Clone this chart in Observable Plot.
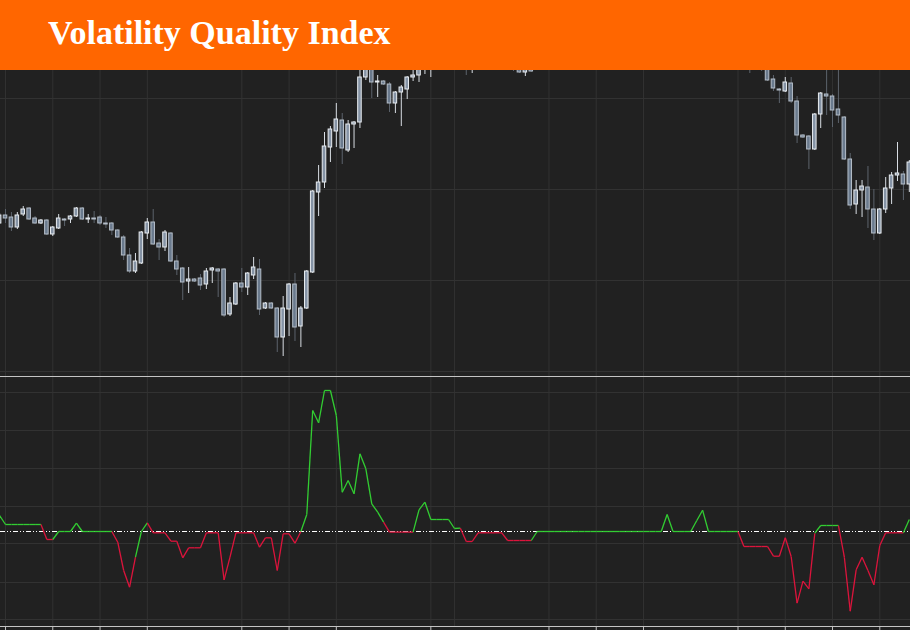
<!DOCTYPE html>
<html><head><meta charset="utf-8">
<script src="https://cdn.jsdelivr.net/npm/d3@7"></script>
<script src="https://cdn.jsdelivr.net/npm/@observablehq/plot@0.6"></script>
<style>
html,body{margin:0;padding:0;background:#212121;}
#wrap{width:910px;height:630px;position:relative;overflow:hidden;background:#212121;}
#title{position:absolute;left:0;top:0;width:910px;height:70px;background:#ff6600;z-index:2;}
#title span{position:absolute;left:48px;top:16px;font:bold 34px/34px "Liberation Serif","Times New Roman",serif;color:#fff;white-space:nowrap;}
#upper{position:absolute;left:0;top:70px;}
#sep{position:absolute;left:0;top:376px;width:910px;height:1px;background:#c4c4c4;}
#lower{position:absolute;left:0;top:377px;}
svg{display:block;}
</style></head>
<body><div id="wrap"><div id="title"><span>Volatility Quality Index</span></div><div id="upper"></div><div id="sep"></div><div id="lower"></div></div>
<script>
// ---- data (bar index starts at -1, partially visible at the left edge) ----
const firstBar = -1;
const open = [
1.3148,1.3156,1.3154,1.3144,1.3157,1.3163,1.3153,1.3148,1.3151,1.3137,
1.3143,1.3152,1.3152,1.3155,1.3163,1.3152,1.3153,1.3154,1.3148,1.3148,
1.3141,1.3134,1.3116,1.3100,1.3108,1.3138,1.3149,1.3128,1.3124,1.3138,
1.3110,1.3103,1.3090,1.3092,1.3093,1.3087,1.3101,1.3102,1.3102,1.3057,
1.3067,1.3088,1.3084,1.3096,1.3102,1.3063,1.3068,1.3063,1.3034,1.3062,
1.3087,1.3045,1.3063,1.3099,1.3179,1.3189,1.3224,1.3240,1.3251,1.3221,
1.3247,1.3249,1.3294,1.3307,1.3289,1.3290,1.3287,1.3268,1.3279,1.3282,
1.3294,1.3296,1.3306,1.3316,1.3326,1.3321,1.3327,1.3323,1.3316,1.3311,
1.3305,1.3313,1.3321,1.3324,1.3319,1.3322,1.3316,1.3311,1.3307,1.3299,
1.3308,1.3304,1.3309,1.3315,1.3321,1.3325,1.3319,1.3323,1.3327,1.3322,
1.3326,1.3329,1.3324,1.3327,1.3331,1.3326,1.3330,1.3325,1.3328,1.3332,
1.3327,1.3331,1.3326,1.3329,1.3339,1.3333,1.3330,1.3334,1.3331,1.3341,
1.3346,1.3339,1.3335,1.3338,1.3333,1.3329,1.3323,1.3315,1.3307,1.3313,
1.3307,1.3292,1.3282,1.3280,1.3288,1.3270,1.3236,1.3235,1.3222,1.3257,
1.3277,1.3275,1.3262,1.3254,1.3212,1.3167,1.3181,1.3184,1.3162,1.3138,
1.3162,1.3183,1.3196,1.3197,1.3187];
const high = [
1.3158,1.3162,1.3159,1.3159,1.3165,1.3164,1.3155,1.3152,1.3152,1.3145,
1.3157,1.3153,1.3156,1.3164,1.3164,1.3157,1.3160,1.3156,1.3154,1.3149,
1.3142,1.3136,1.3123,1.3118,1.3140,1.3153,1.3162,1.3132,1.3141,1.3139,
1.3116,1.3104,1.3104,1.3093,1.3097,1.3103,1.3104,1.3103,1.3103,1.3074,
1.3089,1.3103,1.3099,1.3114,1.3112,1.3069,1.3069,1.3064,1.3075,1.3088,
1.3098,1.3065,1.3101,1.3181,1.3206,1.3239,1.3245,1.3268,1.3258,1.3251,
1.3250,1.3305,1.3311,1.3313,1.3296,1.3291,1.3289,1.3280,1.3286,1.3295,
1.3301,1.3313,1.3323,1.3333,1.3336,1.3331,1.3335,1.3331,1.3326,1.3321,
1.3316,1.3325,1.3329,1.3333,1.3329,1.3331,1.3325,1.3319,1.3316,1.3311,
1.3316,1.3313,1.3321,1.3326,1.3331,1.3334,1.3329,1.3333,1.3336,1.3331,
1.3335,1.3338,1.3333,1.3337,1.3340,1.3335,1.3339,1.3334,1.3337,1.3341,
1.3336,1.3340,1.3335,1.3343,1.3346,1.3341,1.3338,1.3342,1.3345,1.3351,
1.3353,1.3347,1.3344,1.3346,1.3341,1.3337,1.3331,1.3323,1.3319,1.3321,
1.3313,1.3296,1.3283,1.3294,1.3294,1.3275,1.3237,1.3236,1.3258,1.3279,
1.3316,1.3277,1.3311,1.3255,1.3218,1.3191,1.3191,1.3205,1.3182,1.3163,
1.3194,1.3199,1.3229,1.3200,1.3211];
const low = [
1.3147,1.3148,1.3140,1.3142,1.3155,1.3151,1.3147,1.3147,1.3136,1.3135,
1.3142,1.3145,1.3148,1.3154,1.3151,1.3148,1.3148,1.3146,1.3143,1.3136,
1.3133,1.3111,1.3098,1.3098,1.3107,1.3132,1.3126,1.3111,1.3120,1.3109,
1.3096,1.3071,1.3078,1.3089,1.3081,1.3082,1.3088,1.3074,1.3054,1.3055,
1.3066,1.3079,1.3076,1.3092,1.3056,1.3062,1.3062,1.3019,1.3015,1.3035,
1.3030,1.3024,1.3062,1.3098,1.3155,1.3183,1.3209,1.3224,1.3207,1.3219,
1.3223,1.3243,1.3291,1.3273,1.3274,1.3286,1.3259,1.3258,1.3245,1.3272,
1.3290,1.3289,1.3297,1.3294,1.3311,1.3309,1.3313,1.3305,1.3303,1.3296,
1.3298,1.3307,1.3311,1.3313,1.3309,1.3311,1.3305,1.3300,1.3298,1.3295,
1.3299,1.3303,1.3301,1.3308,1.3313,1.3316,1.3311,1.3314,1.3319,1.3313,
1.3317,1.3321,1.3315,1.3319,1.3323,1.3317,1.3321,1.3316,1.3319,1.3323,
1.3318,1.3322,1.3317,1.3321,1.3327,1.3324,1.3321,1.3325,1.3323,1.3331,
1.3333,1.3329,1.3326,1.3327,1.3323,1.3316,1.3309,1.3298,1.3302,1.3300,
1.3290,1.3280,1.3268,1.3279,1.3268,1.3228,1.3233,1.3202,1.3221,1.3243,
1.3256,1.3244,1.3248,1.3211,1.3162,1.3157,1.3154,1.3143,1.3131,1.3137,
1.3158,1.3167,1.3190,1.3171,1.3179];
const close = [
1.3156,1.3153,1.3144,1.3156,1.3162,1.3152,1.3148,1.3151,1.3137,1.3144,
1.3153,1.3151,1.3155,1.3163,1.3152,1.3153,1.3152,1.3148,1.3147,1.3141,
1.3134,1.3116,1.3100,1.3110,1.3139,1.3149,1.3127,1.3124,1.3139,1.3110,
1.3102,1.3089,1.3092,1.3090,1.3086,1.3100,1.3103,1.3100,1.3056,1.3068,
1.3088,1.3084,1.3098,1.3104,1.3062,1.3068,1.3063,1.3034,1.3063,1.3087,
1.3044,1.3063,1.3100,1.3180,1.3189,1.3225,1.3242,1.3252,1.3223,1.3247,
1.3249,1.3294,1.3307,1.3289,1.3290,1.3287,1.3268,1.3279,1.3284,1.3294,
1.3296,1.3306,1.3316,1.3326,1.3321,1.3327,1.3323,1.3316,1.3311,1.3305,
1.3313,1.3321,1.3324,1.3319,1.3322,1.3316,1.3311,1.3307,1.3299,1.3308,
1.3300,1.3309,1.3315,1.3321,1.3325,1.3319,1.3323,1.3327,1.3322,1.3326,
1.3329,1.3324,1.3327,1.3331,1.3326,1.3330,1.3325,1.3328,1.3332,1.3327,
1.3331,1.3326,1.3329,1.3339,1.3333,1.3330,1.3334,1.3331,1.3341,1.3346,
1.3339,1.3335,1.3338,1.3333,1.3329,1.3323,1.3315,1.3307,1.3313,1.3305,
1.3291,1.3283,1.3281,1.3289,1.3270,1.3236,1.3234,1.3222,1.3257,1.3278,
1.3275,1.3261,1.3256,1.3212,1.3166,1.3181,1.3185,1.3162,1.3138,1.3162,
1.3183,1.3196,1.3198,1.3187,1.3209];
// Volatility Quality Index (pips), one value per bar
const vqi = [
16,7,7,7,7,7,7,7,-8,-8,
0,0,0,8.3,0,0,0,0,0,0,
-10.7,-39,-55.7,-25.7,0,8.7,-1.3,-1.3,-1.3,-9.7,
-9.7,-26.3,-16.3,-16.3,-16.3,-1.3,-1.3,-1.3,-48.3,-25.7,
-1.3,-1.3,-1.3,-1.3,-15.7,-6.3,-6.3,-39,-2.3,-2.3,
-11.7,0,17,121,108.7,141,141,116,39.3,51,
37.7,77.7,62.7,27.7,19.3,9.3,-0.6,-0.6,-0.6,-0.6,
-0.6,21.7,29.3,12,12,12,12,3,3.3,-10,
-10,-1.3,-1.3,-1.3,-1.3,-1.3,-9,-9,-9,-9,
-9,0,0,0,0,0,0,0,0,0,
0,0,0,0,0,0,0,0,0,0,
0,0,0,17,0,0,0,0,10.7,21.3,
0,0,0,0,0,0,-15,-15,-15,-15,
-15,-24.7,-24.7,-6.3,-25,-71.7,-49.7,-57.3,-1.7,6,
6,6,6,-25.7,-79.7,-38.3,-25.7,-39,-53.3,-14,
-1.3,-1.3,-1.3,-1.3,12];
// trend state of the indicator, as runs of [state, number of bars]
const trendRuns = [["up",8],["down",2],["up",10],["down",4],["up",2],["down",26],["up",14],["down",5],
  ["up",8],["down",12],["up",35],["down",13],["up",4],["down",11],["up",1]];
// chart furniture
const gridBars = [0, 8, 16, 24, 40, 48, 56, 72, 76, 92, 100, 108, 124, 132, 140, 148];
const tickBars = [0, 8, 16, 24, 40, 48, 56, 72, 92, 100, 108, 124, 132, 140, 148];
const priceGrid = [1.3000, 1.3091, 1.3182, 1.3273];
const vqiGrid = [139, 101, 63, 25, -12, -51, -88];
const xDomain = [-0.85, 153.2];
const priceDomain = [1.2995, 1.3301];
const vqiDomain = [-95, 154];

const BG = "#212121", GRID = "#323232", AXIS = "#c4c4c4";
const GREEN = "#32cd32", RED = "#dc143c";
const BULL_FILL = "#8593a5", BEAR_FILL = "#6a7a8d";
const BULL_STROKE = "#e8ecf0", BEAR_STROKE = "#b4bdc8";
const BULL_WICK = "#d8dde3", BEAR_WICK = "#5c636c";

const bars = open.map((o, k) => ({i: firstBar + k, o, h: high[k], l: low[k], c: close[k]}));
const trend = trendRuns.flatMap(([s, n]) => Array(n).fill(s));
const segs = [];
for (let k = 1; k < vqi.length; ++k) {
  segs.push({x1: firstBar + k - 1, y1: vqi[k - 1], x2: firstBar + k, y2: vqi[k], s: trend[k]});
}
const bull = d => d.c >= d.o;

const upper = Plot.plot({
  width: 910, height: 306, margin: 0,
  style: {background: BG},
  x: {domain: xDomain, axis: null},
  y: {domain: priceDomain, axis: null},
  color: {type: "identity"},
  marks: [
    Plot.ruleX(gridBars, {stroke: GRID}),
    Plot.ruleY(priceGrid, {stroke: GRID}),
    Plot.ruleX(bars, {x: "i", y1: "l", y2: "h", stroke: d => bull(d) ? BULL_WICK : BEAR_WICK, clip: true}),
    Plot.rect(bars, {
      x1: d => d.i - 0.3, x2: d => d.i + 0.3,
      y1: d => Math.min(d.o, d.c),
      y2: d => Math.max(d.o, d.c, Math.min(d.o, d.c) + 0.00008),
      fill: d => bull(d) ? BULL_FILL : BEAR_FILL,
      stroke: d => bull(d) ? BULL_STROKE : BEAR_STROKE,
      strokeWidth: 1, clip: true
    })
  ]
});
document.getElementById("upper").appendChild(upper);

const lower = Plot.plot({
  width: 910, height: 253, marginTop: 0, marginBottom: 4, marginLeft: 0, marginRight: 0,
  style: {background: BG, color: AXIS},
  x: {domain: xDomain, ticks: tickBars, tickSize: 4, tickFormat: () => "", label: null},
  y: {domain: vqiDomain, axis: null},
  color: {type: "identity"},
  marks: [
    Plot.ruleX(gridBars, {stroke: GRID}),
    Plot.ruleY(vqiGrid, {stroke: GRID}),
    Plot.ruleY([vqiDomain[0]], {stroke: AXIS}),
    Plot.ruleY([0], {stroke: "#ffffff", strokeDasharray: "5,2,1,2,1,2"}),
    Plot.link(segs, {x1: "x1", y1: "y1", x2: "x2", y2: "y2",
      stroke: d => d.s === "up" ? GREEN : RED, strokeWidth: 1.3, clip: true})
  ]
});
document.getElementById("lower").appendChild(lower);
</script>
</body></html>
